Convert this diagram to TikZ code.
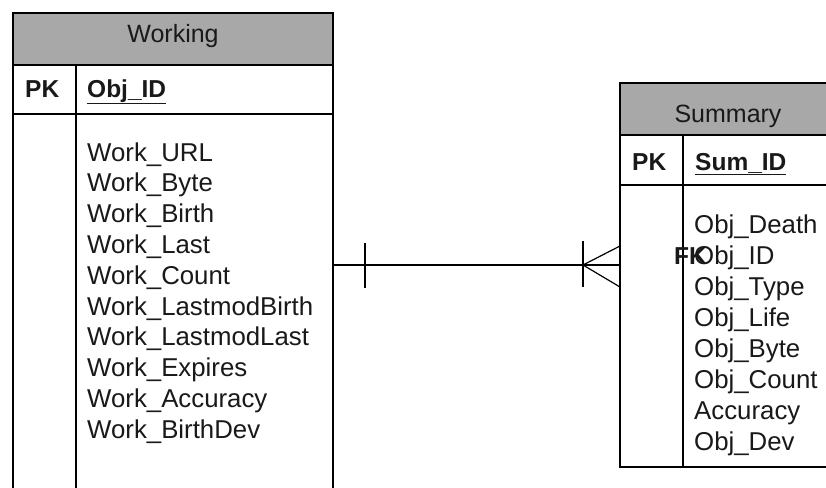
\documentclass[tikz,border=0pt]{standalone}
\usepackage{fontspec}
\setmainfont{Liberation Sans}
\definecolor{hdrgray}{gray}{0.66}
\tikzset{
  frame/.style={draw=black, line width=1.2pt},
  hdr/.style={fill=hdrgray, draw=black, line width=1.2pt},
  txt/.style={font=\fontsize{25.8}{30}\selectfont, inner sep=0pt, anchor=base west, text=black!90},
  ttl/.style={font=\fontsize{25}{30}\selectfont, inner sep=0pt, anchor=base, text=black!90},
  key/.style={font=\fontsize{24.5}{30}\selectfont\bfseries, inner sep=0pt, anchor=base west, text=black!90},
  conn/.style={draw=black, line width=1.2pt},
}
\begin{document}
\begin{tikzpicture}[x=1pt,y=-1pt]
\useasboundingbox (0,0) rectangle (826,487);
\clip (0,0) rectangle (826,487);
\fill[white] (0,0) rectangle (826,487);

% ---------- Working table ----------
\path[hdr] (13,13) rectangle (333,65);
\path[frame] (13,65) rectangle (333,114);
\path[frame] (13,114) rectangle (333,500);
\draw[frame] (76,65) -- (76,500);
\node[draw=none, minimum width=320pt, minimum height=386pt, inner sep=0pt, anchor=north west] (wbody) at (13,114) {};
\node[ttl] (wtitle) at (173,43) {Working};
\node[key] (wpk) at (25,97) {PK};
\node[key] (wid) at (87,97) {\underline{Obj\_ID}};
\foreach \t [count=\i] in {Work\_URL,Work\_Byte,Work\_Birth,Work\_Last,Work\_Count,Work\_LastmodBirth,Work\_LastmodLast,Work\_Expires,Work\_Accuracy,Work\_BirthDev}
  \node[txt] (w\i) at (87,{161+(\i-1)*30.8}) {\t};

% ---------- Summary table ----------
\path[hdr] (620,83) rectangle (840,135);
\path[frame] (620,135) rectangle (840,185);
\path[frame] (620,185) rectangle (840,467);
\draw[frame] (683,135) -- (683,467);
\node[draw=none, minimum width=220pt, minimum height=282pt, inner sep=0pt, anchor=north west] (sbody) at (620,185) {};
\node[ttl] (stitle) at (728,122) {Summary};
\node[key] (spk) at (632,170) {PK};
\node[key] (sid) at (695,170) {\underline{Sum\_ID}};
\foreach \t [count=\i] in {Obj\_Death,Obj\_ID,Obj\_Type,Obj\_Life,Obj\_Byte,Obj\_Count,Accuracy,Obj\_Dev}
  \node[txt] (s\i) at (694,{233+(\i-1)*31}) {\t};
\node[key] (sfk) at (674,264) {FK};

% ---------- Relationship ----------
\coordinate (lk) at (0,265);
\coordinate (bar1) at (365,265);
\coordinate (bar2) at (583,265);
\draw[conn] (wbody.east |- lk) -- (sbody.west |- lk);
\draw[conn] ([yshift=-23pt]bar1) -- ([yshift=22pt]bar1);
\draw[conn] ([yshift=-22pt]bar2) -- ([yshift=24pt]bar2);
\draw[conn] (sbody.west |- 0,246) -- (bar2) -- (sbody.west |- 0,287);
\end{tikzpicture}
\end{document}
